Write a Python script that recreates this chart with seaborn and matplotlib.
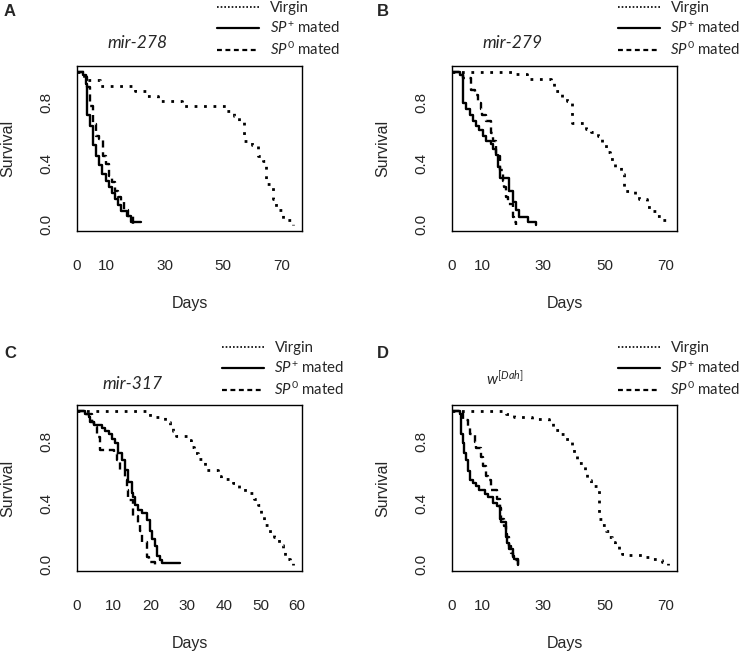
import matplotlib
matplotlib.use('Agg')
import matplotlib.pyplot as plt
import seaborn as sns
import pandas as pd
from matplotlib.lines import Line2D

# ---- data: Kaplan-Meier style survival steps (day, survival) ----
# A: mir-278
a_virgin_day = [0, 2.5, 7.7, 20, 24, 27.6, 36, 51, 53.8, 55.5, 57.2, 60, 61.8, 63.5, 64.6, 66.9, 68, 70.3, 74]
a_virgin_surv = [1.0, 0.95, 0.91, 0.875, 0.845, 0.81, 0.775, 0.745, 0.71, 0.68, 0.55, 0.52, 0.45, 0.42, 0.265, 0.17, 0.10, 0.035, 0.0]
a_spplus_day = [0, 2, 3, 3.5, 4.5, 5.5, 6.5, 7.5, 8.5, 10, 11, 12, 13, 14, 15, 17, 18.5, 22]
a_spplus_surv = [1.0, 0.98, 0.92, 0.72, 0.65, 0.52, 0.45, 0.39, 0.33, 0.29, 0.25, 0.21, 0.17, 0.13, 0.09, 0.06, 0.02, 0.02]
a_sp0_day = [0, 3, 3.5, 4.5, 5.5, 6.5, 7.5, 9, 10, 11, 12, 13, 14, 15, 16, 17.5, 19]
a_sp0_surv = [1.0, 0.97, 0.90, 0.78, 0.66, 0.58, 0.56, 0.45, 0.40, 0.32, 0.28, 0.22, 0.18, 0.15, 0.10, 0.06, 0.0]

# B: mir-279
b_virgin_day = [0, 20, 24.5, 32.4, 33.5, 36, 37.9, 39.5, 44, 45.5, 48, 49.3, 50.4, 52, 53.6, 55.3, 56.6, 60, 61.5, 64, 65.5, 67, 68.8, 70.5]
b_virgin_surv = [1.0, 0.985, 0.955, 0.93, 0.875, 0.84, 0.81, 0.67, 0.63, 0.61, 0.58, 0.54, 0.48, 0.43, 0.38, 0.33, 0.22, 0.20, 0.17, 0.12, 0.09, 0.06, 0.03, 0.0]
b_spplus_day = [0, 2.5, 3.6, 4.7, 5.8, 6.9, 7.9, 9, 10.1, 11.2, 12.8, 13.4, 14.5, 15.0, 15.6, 18.8, 19.9, 21, 22.1, 24.8, 27.5]
b_spplus_surv = [1.0, 0.98, 0.80, 0.76, 0.72, 0.68, 0.65, 0.62, 0.58, 0.55, 0.53, 0.50, 0.46, 0.38, 0.31, 0.22, 0.15, 0.10, 0.05, 0.02, 0.0]
b_sp0_day = [0, 3.6, 6.3, 7.4, 8.5, 9.5, 10, 11.2, 12.8, 13.4, 14.5, 15.6, 16.6, 17.2, 17.7, 18.3, 20, 20.5, 21]
b_sp0_surv = [1.0, 0.96, 0.88, 0.85, 0.80, 0.76, 0.72, 0.68, 0.60, 0.55, 0.45, 0.36, 0.29, 0.25, 0.18, 0.14, 0.05, 0.02, 0.0]

# C: mir-317
c_virgin_day = [0, 19.9, 24, 25.3, 26.2, 27, 30.3, 31.2, 32, 33, 34.8, 38.5, 39.4, 42.5, 44.3, 45.7, 48.4, 49.3, 50.2, 51, 52.5, 53.8, 55.2, 56.1, 56.6, 58, 59]
c_virgin_surv = [1.0, 0.96, 0.93, 0.90, 0.87, 0.84, 0.81, 0.77, 0.73, 0.69, 0.62, 0.58, 0.56, 0.53, 0.50, 0.47, 0.43, 0.39, 0.33, 0.26, 0.21, 0.18, 0.13, 0.10, 0.04, 0.01, 0.0]
c_spplus_day = [0, 2.3, 3.2, 3.6, 4.5, 6.8, 7.7, 8.6, 9.5, 10.4, 11.3, 12.2, 13.1, 14, 14.9, 15.4, 15.8, 16.7, 17.6, 19, 19.9, 20.4, 21.3, 21.7, 22.6, 23.1, 28]
c_spplus_surv = [1.0, 0.98, 0.96, 0.93, 0.91, 0.89, 0.87, 0.85, 0.82, 0.79, 0.73, 0.68, 0.62, 0.54, 0.47, 0.44, 0.39, 0.36, 0.34, 0.29, 0.22, 0.17, 0.12, 0.06, 0.03, 0.01, 0.01]
c_sp0_day = [0, 2.5, 4, 4.5, 5.4, 6.3, 10, 10.9, 11.8, 13.2, 13.6, 14, 15.4, 16.7, 17.2, 17.6, 19, 19.5, 21.3]
c_sp0_surv = [1.0, 0.98, 0.93, 0.90, 0.83, 0.75, 0.72, 0.68, 0.62, 0.55, 0.49, 0.42, 0.32, 0.27, 0.22, 0.15, 0.05, 0.02, 0.0]

# D: w[Dah]
d_virgin_day = [0, 17.7, 20.5, 26.4, 31.9, 33, 35, 36.8, 39.5, 40, 41, 43.8, 44.4, 45.5, 48.2, 49.3, 50.4, 51.5, 52.6, 53.6, 54.7, 55.8, 57, 62.5, 64.5, 67.5, 68.9, 71]
d_virgin_surv = [1.0, 0.98, 0.96, 0.95, 0.92, 0.88, 0.85, 0.82, 0.77, 0.72, 0.66, 0.60, 0.55, 0.51, 0.30, 0.26, 0.22, 0.18, 0.15, 0.12, 0.09, 0.07, 0.065, 0.05, 0.04, 0.03, 0.02, 0.0]
d_spplus_day = [0, 2.5, 2.8, 3.0, 3.5, 4.1, 4.7, 5.2, 5.8, 6.9, 7.9, 9, 10.7, 11.8, 13.4, 14.8, 15.6, 16.1, 17.7, 18.2, 18.8, 19.9, 20.5, 21.5]
d_spplus_surv = [1.0, 0.98, 0.92, 0.85, 0.79, 0.73, 0.68, 0.61, 0.55, 0.53, 0.51, 0.49, 0.46, 0.44, 0.40, 0.38, 0.30, 0.28, 0.20, 0.14, 0.10, 0.06, 0.04, 0.0]
d_sp0_day = [0, 3.6, 5.2, 5.8, 7.4, 8, 9.5, 10.1, 11.2, 11.8, 12.8, 14.8, 15.6, 16.1, 17.2, 17.7, 18.8, 19.4, 19.9, 20.5, 21.5]
d_sp0_surv = [1.0, 0.94, 0.90, 0.85, 0.80, 0.76, 0.70, 0.64, 0.58, 0.55, 0.49, 0.43, 0.37, 0.30, 0.25, 0.18, 0.12, 0.08, 0.05, 0.03, 0.0]

panel_letters = ['A', 'B', 'C', 'D']
panel_titles = ['mir-278', 'mir-279', 'mir-317', r'$w^{[Dah]}$']
panel_xmax = [74, 71, 59, 71]
panel_xticklabels = [
    ['0', '10', '', '30', '', '50', '', '70'],
    ['0', '10', '', '30', '', '50', '', '70'],
    ['0', '10', '20', '30', '40', '50', '60'],
    ['0', '10', '', '30', '', '50', '', '70'],
]
y_ticks = [0.0, 0.2, 0.4, 0.6, 0.8, 1.0]
y_ticklabels = ['0.0', '', '0.4', '', '0.8', '']
group_labels = ['Virgin', r'$SP^{+}$ mated', r'$SP^{\mathit{0}}$ mated']

curves = [
    [(a_virgin_day, a_virgin_surv), (a_spplus_day, a_spplus_surv), (a_sp0_day, a_sp0_surv)],
    [(b_virgin_day, b_virgin_surv), (b_spplus_day, b_spplus_surv), (b_sp0_day, b_sp0_surv)],
    [(c_virgin_day, c_virgin_surv), (c_spplus_day, c_spplus_surv), (c_sp0_day, c_sp0_surv)],
    [(d_virgin_day, d_virgin_surv), (d_spplus_day, d_spplus_surv), (d_sp0_day, d_sp0_surv)],
]

sns.set_style("white")
ARIAL = 'Liberation Sans'
plt.rcParams['font.family'] = [ARIAL, 'DejaVu Sans']
plt.rcParams['mathtext.fontset'] = 'custom'
plt.rcParams['mathtext.rm'] = 'Lato'
plt.rcParams['mathtext.it'] = 'Lato:italic'

# line styles for the curves / legend handles
plot_styles = [dict(lw=2.0, ls=(0, (1.0, 2.4))),
               dict(lw=1.7, ls='-'),
               dict(lw=1.7, ls=(0, (3.0, 2.0)))]
legend_styles = [dict(lw=1.2, ls=(0, (1.0, 1.2))),
                 dict(lw=1.6, ls='-'),
                 dict(lw=1.6, ls=(0, (2.2, 1.6)))]

W, H = 747, 654
fig = plt.figure(figsize=(W / 100, H / 100), dpi=100)

# axes boxes in pixels: left, top, right, bottom
boxes = [(77, 66, 302, 231), (452, 66, 677, 231),
         (77, 405, 302, 571), (452, 405, 677, 571)]
title_pos = [(0.27, 1.14), (0.267, 1.14), (0.245, 1.127), (0.236, 1.157)]
title_size = [12.5, 12.5, 12.5, 11]
legend_anchor = [(217, 1), (618, 1), (222, 341), (618, 341)]
letter_pos = [(10, 12), (383, 12), (10, 353), (383, 353)]

for i in range(4):
    l, t, r, b = boxes[i]
    ax = fig.add_axes([l / W, 1 - b / H, (r - l) / W, (b - t) / H])
    for (days, surv), st in zip(curves[i], plot_styles):
        df = pd.DataFrame({'Days': days, 'Survival': surv})
        sns.lineplot(data=df, x='Days', y='Survival', ax=ax, color='black',
                     estimator=None, drawstyle='steps-post',
                     linewidth=st['lw'], linestyle=st['ls'])
    xmax = panel_xmax[i]
    ax.set_xlim(0, xmax * 1.04)
    ax.set_ylim(-0.04, 1.04)
    ax.set_xticks(list(range(0, int(xmax * 1.04) + 1, 10)))
    ax.set_xticklabels(panel_xticklabels[i], fontsize=11, fontfamily=ARIAL)
    ax.set_yticks(y_ticks)
    ax.set_yticklabels(y_ticklabels, fontsize=11, fontfamily=ARIAL, rotation=90, va='center')
    ax.tick_params(direction='out', length=6.5, width=0.9, color='black')
    ax.tick_params(axis='x', pad=13.5)
    ax.tick_params(axis='y', pad=10.5)
    for sp in ax.spines.values():
        sp.set_linewidth(1.0)
        sp.set_color('black')
    ax.set_xlabel('Days', fontsize=11.5, fontfamily=ARIAL)
    ax.set_ylabel('Survival', fontsize=11.5, fontfamily=ARIAL)
    ax.xaxis.set_label_coords(0.5, -(296 - 231) / 165)
    ax.yaxis.set_label_coords(-(77 - 15) / 225, 0.5)

    ax.text(title_pos[i][0], title_pos[i][1], panel_titles[i], transform=ax.transAxes,
            ha='center', va='center', fontsize=title_size[i], family='Lato', style='italic')

    handles = [Line2D([], [], color='black', linewidth=s['lw'], linestyle=s['ls'])
               for s in legend_styles]
    lx, ly = legend_anchor[i]
    fig.legend(handles, group_labels, loc='upper left',
               bbox_to_anchor=(lx / W, 1 - ly / H), frameon=False,
               prop={'family': 'Lato', 'size': 10.8}, handlelength=2.8,
               handletextpad=0.7, labelspacing=0.33, borderpad=0, borderaxespad=0)

    fig.text(letter_pos[i][0] / W, 1 - letter_pos[i][1] / H, panel_letters[i],
             fontsize=12, fontweight='bold', fontfamily=ARIAL, ha='center', va='center')

fig.savefig('out.png', dpi=100)
